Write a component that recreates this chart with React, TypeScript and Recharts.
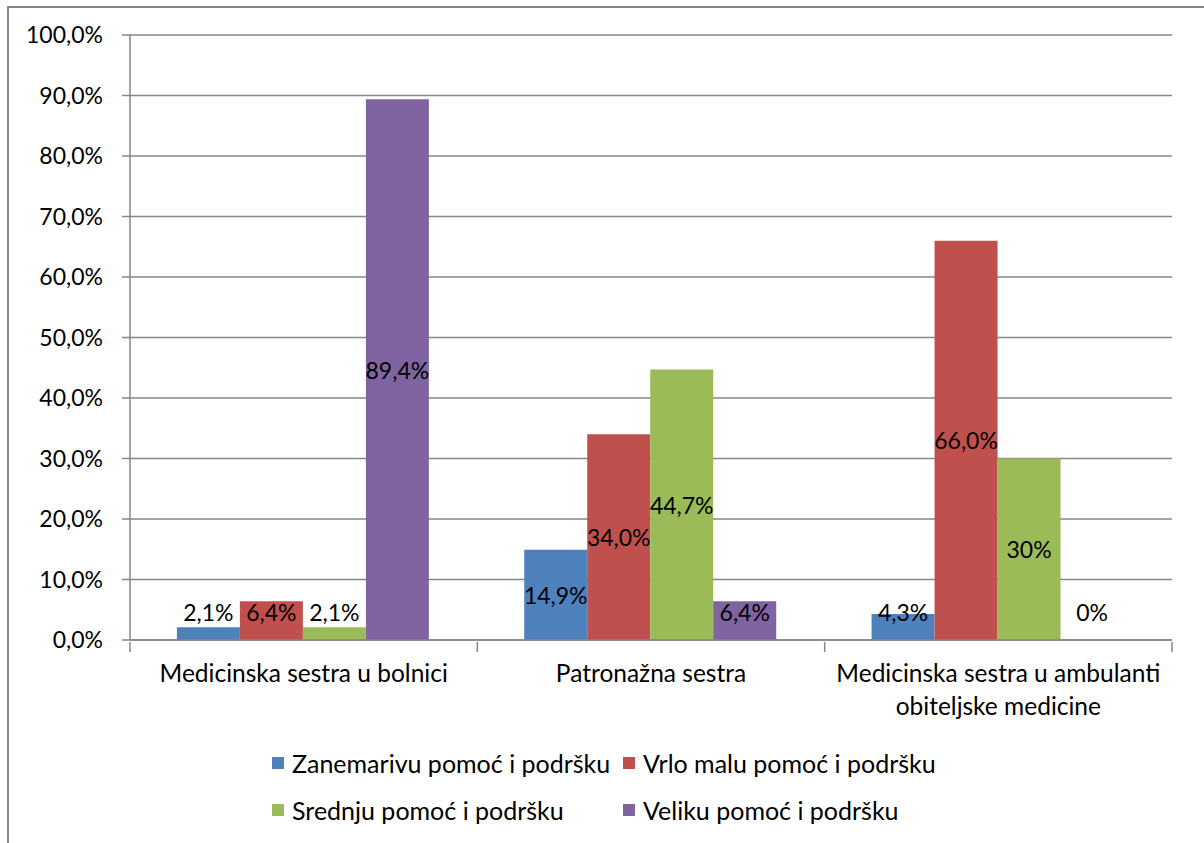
import { Bar, BarChart, CartesianGrid, LabelList, XAxis, YAxis } from 'recharts';

const FONT = 'Lato, "Open Sans", sans-serif';
const AXIS = '#868686';
const W = 1204;
const H = 843;
const MARGIN = { top: 35, right: 32, left: 0, bottom: 133 };
const Y_W = 130;
const NUM_SIZE = 23;
const CAT_SIZE = 24.5;
const LEGEND_SIZE = 25;

const categories = [
  'Medicinska sestra u bolnici',
  'Patronažna sestra',
  'Medicinska sestra u ambulanti obiteljske medicine',
];

const seriesNames = [
  'Zanemarivu pomoć i podršku',
  'Vrlo malu pomoć i podršku',
  'Srednju pomoć i podršku',
  'Veliku pomoć i podršku',
];
const colors = ['#4F81BD', '#C0504D', '#9BBB59', '#8064A2'];

const zanemarivu = [2.1, 14.9, 4.3];
const vrloMalu = [6.4, 34.0, 66.0];
const srednju = [2.1, 44.7, 30.0];
const veliku = [89.4, 6.4, 0];

const zanemarivuLbl = ['2,1%', '14,9%', '4,3%'];
const vrloMaluLbl = ['6,4%', '34,0%', '66,0%'];
const srednjuLbl = ['2,1%', '44,7%', '30%'];
const velikuLbl = ['89,4%', '6,4%', '0%'];

const yTicks = [0, 10, 20, 30, 40, 50, 60, 70, 80, 90, 100];

const values = [zanemarivu, vrloMalu, srednju, veliku];
const labels = [zanemarivuLbl, vrloMaluLbl, srednjuLbl, velikuLbl];

const data = categories.map((name, i) => {
  const row: Record<string, string | number> = { name };
  values.forEach((v, s) => {
    row[`s${s}`] = v[i];
    row[`l${s}`] = labels[s][i];
  });
  return row;
});

const PLOT_W = W - Y_W - MARGIN.left - MARGIN.right;
const BAND = PLOT_W / categories.length;

// word wrap with canvas measurement
function wrap(text: string, maxW: number, font: string) {
  const ctx = document.createElement('canvas').getContext('2d');
  if (!ctx) return [text];
  ctx.font = font;
  const lines: string[] = [];
  let cur = '';
  for (const w of text.split(' ')) {
    const next = cur ? `${cur} ${w}` : w;
    if (cur && ctx.measureText(next).width > maxW) {
      lines.push(cur);
      cur = w;
    } else {
      cur = next;
    }
  }
  if (cur) lines.push(cur);
  return lines;
}

function CenterLabel(props: any) {
  const { x, y, width, height, value } = props;
  const cy = Math.min(y + height / 2, y + height - 28);
  return (
    <text
      x={x + width / 2}
      y={cy}
      textAnchor="middle"
      dominantBaseline="central"
      fill="#000"
      fontSize={NUM_SIZE}
      fontFamily={FONT}
    >
      {value}
    </text>
  );
}

function CategoryTick(props: any) {
  const { x, y, payload, index } = props;
  const axisY = y - 6;
  const lines = wrap(payload.value, BAND - 16, `${CAT_SIZE}px Lato`);
  return (
    <g>
      <line x1={x - BAND / 2} x2={x - BAND / 2} y1={axisY} y2={axisY + 10} stroke={AXIS} strokeWidth={1.5} />
      {index === categories.length - 1 && (
        <line x1={x + BAND / 2} x2={x + BAND / 2} y1={axisY} y2={axisY + 10} stroke={AXIS} strokeWidth={1.5} />
      )}
      <text textAnchor="middle" fill="#000" fontSize={CAT_SIZE} fontFamily={FONT}>
        {lines.map((l, i) => (
          <tspan key={i} x={x} y={axisY + 30 + i * 33} dominantBaseline="central">
            {l}
          </tspan>
        ))}
      </text>
    </g>
  );
}

function LegendBox() {
  return (
    <div
      style={{
        position: 'absolute',
        top: 748,
        left: 272,
        display: 'grid',
        gridTemplateColumns: '351px 351px',
        rowGap: 17,
        fontFamily: FONT,
        fontSize: LEGEND_SIZE,
        color: '#000',
      }}
    >
      {seriesNames.map((n, i) => (
        <div key={n} style={{ display: 'flex', alignItems: 'center', height: 30 }}>
          <span style={{ width: 12, height: 12, background: colors[i], marginRight: 8, display: 'inline-block' }} />
          <span>{n}</span>
        </div>
      ))}
    </div>
  );
}

export default function App() {
  return (
    <div style={{ position: 'fixed', top: 0, left: 0, width: W, height: H, background: '#fff' }}>
      <div
        style={{
          position: 'absolute',
          top: 6,
          left: 7,
          width: W,
          height: H,
          borderTop: `2px solid ${AXIS}`,
          borderLeft: `2px solid ${AXIS}`,
        }}
      />
      <div style={{ position: 'absolute', top: 0, left: 0 }}>
        <BarChart width={W} height={H} data={data} margin={MARGIN} barCategoryGap="13.5%" barGap={0}>
          <CartesianGrid stroke={AXIS} strokeWidth={1.5} vertical={false} />
          <XAxis
            dataKey="name"
            height={70}
            axisLine={{ stroke: AXIS, strokeWidth: 1.5 }}
            tickLine={false}
            tick={<CategoryTick />}
            interval={0}
          />
          <YAxis
            width={Y_W}
            domain={[0, 100]}
            ticks={yTicks}
            interval={0}
            tickFormatter={(v: number) => `${v.toFixed(1).replace('.', ',')}%`}
            axisLine={{ stroke: AXIS, strokeWidth: 1.5 }}
            tickLine={{ stroke: AXIS, strokeWidth: 1.5 }}
            tickSize={8}
            tickMargin={19}
            tick={{ fill: '#000', fontSize: NUM_SIZE, fontFamily: FONT }}
          />
          {seriesNames.map((n, s) => (
            <Bar
              key={n}
              dataKey={`s${s}`}
              name={n}
              fill={colors[s]}
              minPointSize={0.01}
              isAnimationActive={false}
            >
              <LabelList dataKey={`l${s}`} content={<CenterLabel />} />
            </Bar>
          ))}
        </BarChart>
      </div>
      <LegendBox />
    </div>
  );
}
